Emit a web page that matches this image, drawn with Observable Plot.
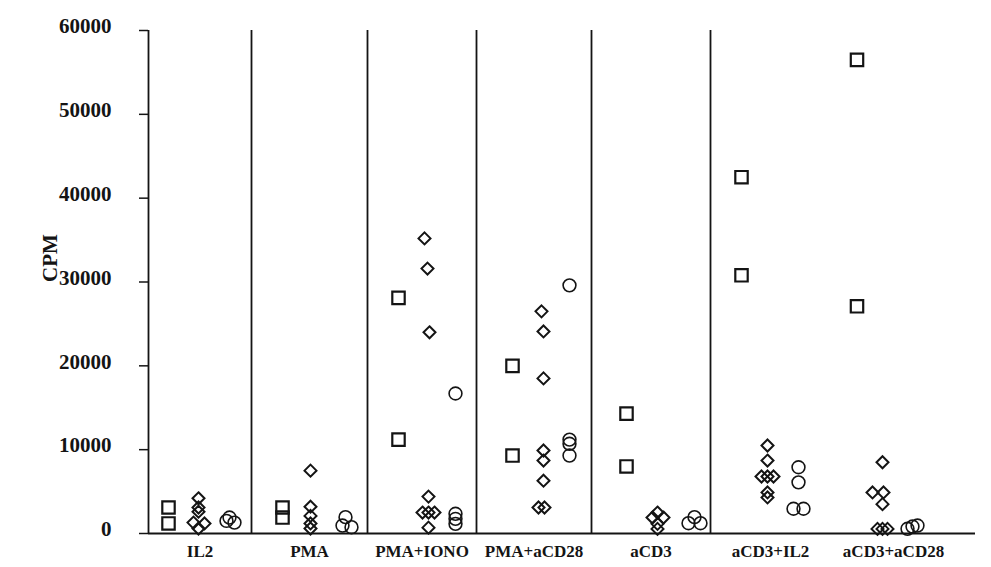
<!DOCTYPE html>
<html>
<head>
<meta charset="utf-8">
<script src="https://cdn.jsdelivr.net/npm/d3@7"></script>
<script src="https://cdn.jsdelivr.net/npm/@observablehq/plot@0.6"></script>
<style>
  html, body { margin: 0; padding: 0; background: #fff; }
  #chart { width: 991px; height: 567px; }
</style>
</head>
<body>
<div id="chart"></div>
<script>
// Categories (stimulation conditions)
const categories = ["IL2", "PMA", "PMA+IONO", "PMA+aCD28", "aCD3", "aCD3+IL2", "aCD3+aCD28"];
const yTicks = [0, 10000, 20000, 30000, 40000, 50000, 60000];
// panel edges along the x axis (arbitrary position units); labels sit at panel midpoints
const panelEdges = [0, 1.03, 2.19, 3.28, 4.43, 5.62, 6.82, 8.08];

// Series 1: squares — CPM values per category and their x positions
const squareValues = [
  [3100, 1200], [3100, 1900], [28100, 11200], [20000, 9300],
  [14300, 8000], [42500, 30800], [56500, 27100]
];
const squareX = [
  [0.20, 0.20], [1.34, 1.34], [2.50, 2.50], [3.64, 3.64],
  [4.78, 4.78], [5.93, 5.93], [7.085, 7.085]
];

// Series 2: diamonds
const diamondValues = [
  [4200, 3100, 2600, 1300, 1200, 600],
  [7500, 3200, 2100, 1200, 600],
  [35200, 31600, 24000, 4400, 2500, 2500, 2500, 700],
  [26500, 24100, 18500, 9900, 8700, 6300, 3100, 3100],
  [2500, 1900, 1900, 1150, 550],
  [10500, 8700, 6800, 6800, 6800, 4900, 4300],
  [8500, 4900, 4900, 3500, 550, 550, 550]
];
const diamondX = [
  [0.50, 0.50, 0.50, 0.45, 0.56, 0.50],
  [1.62, 1.62, 1.62, 1.62, 1.62],
  [2.76, 2.79, 2.81, 2.80, 2.74, 2.80, 2.86, 2.80],
  [3.93, 3.95, 3.95, 3.95, 3.95, 3.95, 3.90, 3.96],
  [5.09, 5.04, 5.15, 5.09, 5.09],
  [6.19, 6.19, 6.13, 6.19, 6.25, 6.19, 6.19],
  [7.34, 7.24, 7.35, 7.34, 7.29, 7.34, 7.39]
];

// Series 3: circles
const circleValues = [
  [1900, 1500, 1300],
  [1950, 950, 750],
  [16700, 2350, 1750, 1150],
  [29600, 11200, 10700, 9300],
  [1950, 1230, 1230],
  [7900, 6100, 2950, 2950],
  [950, 830, 560]
];
const circleX = [
  [0.81, 0.78, 0.86],
  [1.97, 1.94, 2.03],
  [3.07, 3.07, 3.07, 3.07],
  [4.21, 4.21, 4.21, 4.21],
  [5.46, 5.40, 5.52],
  [6.50, 6.50, 6.45, 6.55],
  [7.69, 7.64, 7.59]
];

function rows(values, xs) {
  const out = [];
  values.forEach((vals, g) => vals.forEach((v, k) => out.push({x: xs[g][k], y: v})));
  return out;
}
const squares = rows(squareValues, squareX);
const diamonds = rows(diamondValues, diamondX);
const circles = rows(circleValues, circleX);

const separators = panelEdges.slice(1, -2);
const labelPos = categories.map((c, i) => (panelEdges[i] + panelEdges[i + 1]) / 2);

const ink = "#141414";
const xMin = 0, xMax = 8.27;

const chart = Plot.plot({
  width: 991,
  height: 567,
  marginLeft: 148,
  marginRight: 16,
  marginTop: 30,
  marginBottom: 34,
  style: {fontFamily: "'Liberation Serif', 'DejaVu Serif', serif", fontSize: "16px", fontWeight: "bold", color: ink, background: "#fff"},
  x: {domain: [xMin, xMax], axis: null},
  y: {domain: [0, 60000], axis: null},
  marks: [
    Plot.ruleX(separators, {y1: 0, y2: 60000, stroke: ink, strokeWidth: 1.8}),
    Plot.ruleX([xMin], {y1: 0, y2: 60000, stroke: ink, strokeWidth: 1.8}),
    Plot.ruleY([0], {x1: xMin, x2: xMax, stroke: ink, strokeWidth: 1.8}),
    Plot.axisY({ticks: yTicks, tickFormat: () => "", tickSize: 9, label: null, strokeWidth: 1.5}),
    Plot.text(yTicks, {x: xMin, y: d => d, text: d3.format("d"), textAnchor: "end", dx: -37, dy: -4, fontSize: 21, fontWeight: "bold", fill: ink}),
    Plot.axisX({ticks: labelPos, tickFormat: (d, i) => categories[i], tickSize: 0, tickPadding: 11, label: null, fontSize: 17, fontWeight: "bold"}),
    Plot.text(["CPM"], {frameAnchor: "left", dx: -98, rotate: -90, fontSize: 21, fontWeight: "bold", fill: ink}),
    Plot.dot(squares, {x: "x", y: "y", symbol: "square", r: 7, stroke: ink, strokeWidth: 2.2, fill: "none"}),
    Plot.dot(diamonds, {x: "x", y: "y", symbol: "diamond2", r: 5.4, stroke: ink, strokeWidth: 2, fill: "none"}),
    Plot.dot(circles, {x: "x", y: "y", symbol: "circle", r: 6.4, stroke: ink, strokeWidth: 1.6, fill: "none"})
  ]
});
document.getElementById("chart").append(chart);
</script>
</body>
</html>
